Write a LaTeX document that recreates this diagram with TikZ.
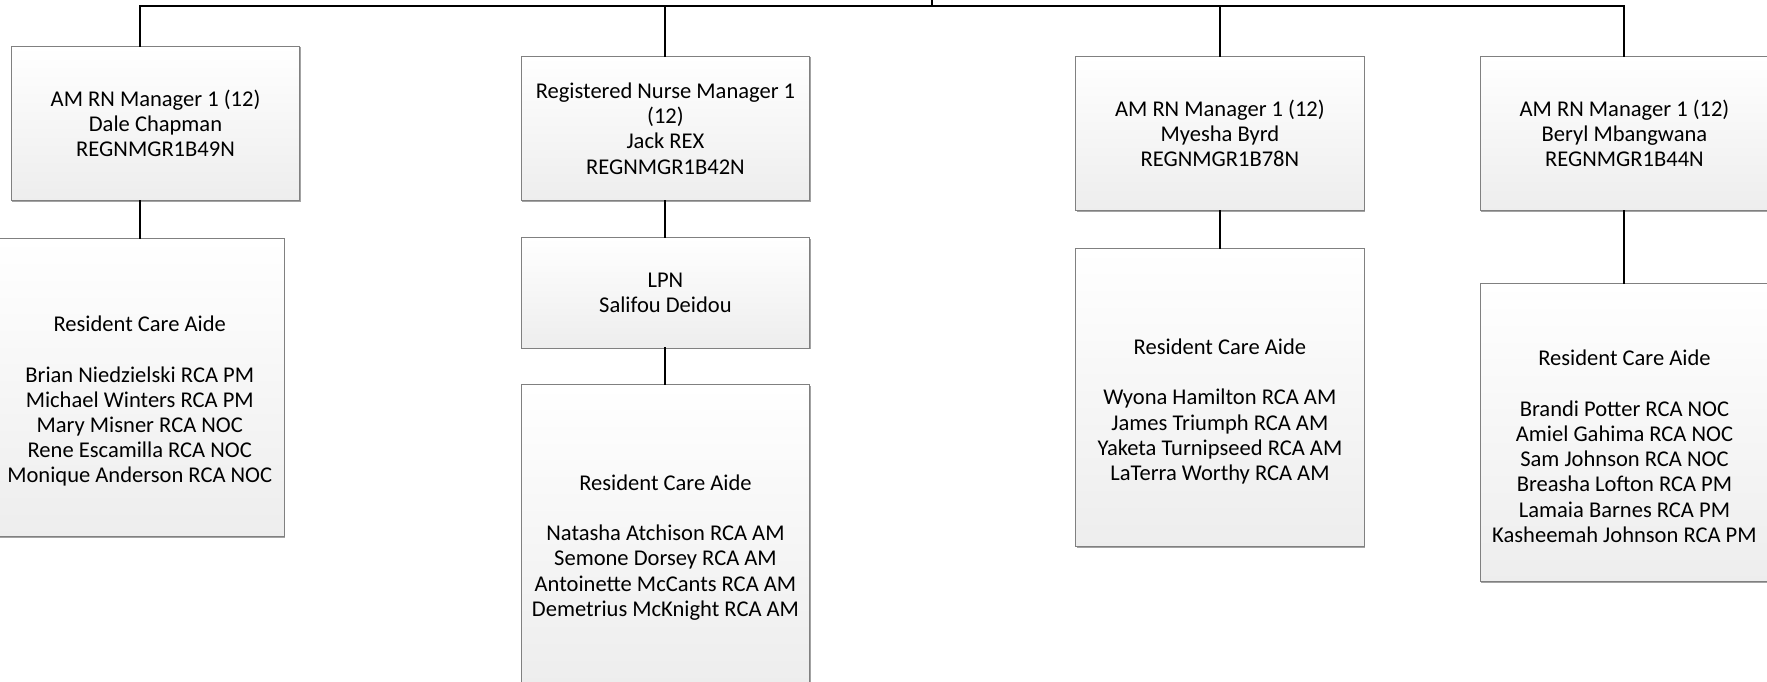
\documentclass[tikz,border=0pt]{standalone}
\usepackage{fontspec}
\setmainfont{Carlito}
\usepackage{tikz}
\usetikzlibrary{positioning, shadows}

\begin{document}
\begin{tikzpicture}[
        x=0.55pt, y=-0.55pt,
        base/.style={
            draw=black!50, align=center, inner sep=0pt, minimum width=140.8pt,
            font=\fontsize{11}{12.3}\selectfont,
            top color=white, bottom color=black!7,
            drop shadow={shadow xshift=0.5pt, shadow yshift=-0.5pt, fill=black!60, opacity=0.6}
        },
        mgr/.style={base, minimum height=75.35pt},
        nurse/.style={base, minimum height=53.9pt},
        aide/.style={base, minimum height=145.5pt},
        link/.style={line width=1pt, line cap=rect}
    ]
        \useasboundingbox (0,0) rectangle (1568,605);

        % Gestores
        \node[mgr] (mgr1) at (138,109.5) {AM RN Manager 1 (12) \\ Dale Chapman \\ REGNMGR1B49N};
        \node[mgr, minimum height=70.4pt] (mgr2) at (590.5,114) {Registered Nurse Manager 1 \\ (12) \\ Jack REX \\ REGNMGR1B42N};
        \node[mgr] (mgr3) at (1082.5,118.5) {AM RN Manager 1 (12) \\ Myesha Byrd \\ REGNMGR1B78N};
        \node[mgr] (mgr4) at (1441.5,118.5) {AM RN Manager 1 (12) \\ Beryl Mbangwana \\ REGNMGR1B44N};

        % Equipas
        \node[aide, below=18.15pt of mgr1, xshift=-7.7pt] (rca1) {\strut \\ Resident Care Aide \\ \\ Brian Niedzielski RCA PM \\ Michael Winters RCA PM \\ Mary Misner RCA NOC \\ Rene Escamilla RCA NOC \\ Monique Anderson RCA NOC};
        \node[nurse, below=17.6pt of mgr2] (lpn) {LPN \\ Salifou Deidou};
        \node[aide, below=17.6pt of lpn] (rca2) {\strut \\ Resident Care Aide \\ \\ Natasha Atchison RCA AM \\ Semone Dorsey RCA AM \\ Antoinette McCants RCA AM \\ Demetrius McKnight RCA AM};
        \node[aide, below=18.15pt of mgr3] (rca3) {\strut \\ Resident Care Aide \\ \\ Wyona Hamilton RCA AM \\ James Triumph RCA AM \\ Yaketa Turnipseed RCA AM \\ LaTerra Worthy RCA AM};
        \node[aide, below=35.2pt of mgr4] (rca4) {\strut \\ Resident Care Aide \\ \\ Brandi Potter RCA NOC \\ Amiel Gahima RCA NOC \\ Sam Johnson RCA NOC \\ Breasha Lofton RCA PM \\ Lamaia Barnes RCA PM \\ Kasheemah Johnson RCA PM};

        % Linhas
        \coordinate (top) at (827,0);
        \coordinate (bus) at (827,5);
        \draw[link] (top) -- (bus);
        \draw[link] (rca1.north |- bus) -- (bus -| mgr4.north);
        \draw[link] (rca1.north |- bus) -- (rca1.north |- mgr1.north);
        \draw[link] (bus -| mgr2.north) -- (mgr2.north);
        \draw[link] (bus -| mgr3.north) -- (mgr3.north);
        \draw[link] (bus -| mgr4.north) -- (mgr4.north);
        \draw[link] (rca1.north |- mgr1.south) -- (rca1.north);
        \draw[link] (mgr2) -- (lpn);
        \draw[link] (lpn) -- (rca2);
        \draw[link] (mgr3) -- (rca3);
        \draw[link] (mgr4) -- (rca4);

    \end{tikzpicture}
\end{document}
